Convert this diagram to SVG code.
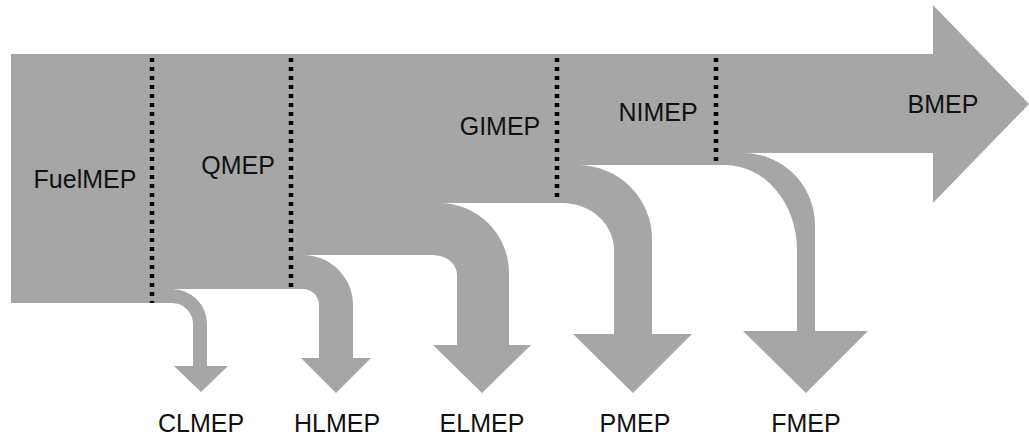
<svg xmlns="http://www.w3.org/2000/svg" width="1029" height="439" viewBox="0 0 1029 439">
  <style>
    .band { fill: #a6a6a6; stroke: none; }
    .cut { stroke: #000; stroke-width: 4.5; stroke-dasharray: 4 5; fill: none; }
    .lbl { font-family: "Liberation Sans", Arial, sans-serif; font-size: 25px; fill: #111; text-anchor: middle; }
  </style>
  <rect width="1029" height="439" fill="#fff"/>

  <!-- stages of the main energy band -->
  <g id="fuelmep">
    <rect class="band" x="11" y="54" width="142" height="249"/>
    <text class="lbl" x="85" y="188">FuelMEP</text>
  </g>
  <g id="qmep">
    <rect class="band" x="152" y="54" width="140" height="235"/>
    <text class="lbl" x="238" y="174">QMEP</text>
  </g>
  <g id="gimep">
    <rect class="band" x="291" y="54" width="267" height="149"/>
    <text class="lbl" x="500" y="135">GIMEP</text>
  </g>
  <g id="nimep">
    <rect class="band" x="557" y="54" width="160" height="111"/>
    <text class="lbl" x="658" y="121">NIMEP</text>
  </g>
  <g id="bmep">
    <path class="band" d="M716,54 H933 V5 L1029,104 L933,203 V153 H716 Z"/>
    <text class="lbl" x="943" y="113">BMEP</text>
  </g>

  <!-- loss branches leaving the band -->
  <g id="connectors">
    <path id="clmep-flow" class="band" d="M152,289 H172 A35,35 0 0 1 207,324 V366 H228 L201,392 L174,366 H193 V324 A21,21 0 0 0 172,303 H152 Z"/>
    <path id="hlmep-flow" class="band" d="M291,255 H303 A50,50 0 0 1 353,305 V358 H371 L336,393 L301,358 H319 V305 A16,16 0 0 0 303,289 H291 Z"/>
    <path id="elmep-flow" class="band" d="M291,203 H439 A70,70 0 0 1 509,273 V345 H531 L482,393 L433,345 H457 V275 A24,20 0 0 0 433,255 H291 Z"/>
    <path id="pmep-flow" class="band" d="M557,165 H578 A74,74 0 0 1 652,239 V334 H692 L633,393 L573,334 H614 V250 A52,47 0 0 0 562,203 H557 Z"/>
    <path id="fmep-flow" class="band" d="M716,153 H743 A72,72 0 0 1 815,225 V331 H868 L806,393 L743,331 H797 V250 A72,85 0 0 0 725,165 H716 Z"/>
  </g>

  <!-- dotted stage boundaries -->
  <g id="boundaries">
    <line class="cut" x1="152" y1="58" x2="152" y2="303"/>
    <line class="cut" x1="291" y1="58" x2="291" y2="288"/>
    <line class="cut" x1="557" y1="58" x2="557" y2="199"/>
    <line class="cut" x1="716" y1="58" x2="716" y2="164"/>
  </g>

  <!-- branch labels -->
  <g id="clmep"><text class="lbl" x="201" y="432">CLMEP</text></g>
  <g id="hlmep"><text class="lbl" x="337" y="432">HLMEP</text></g>
  <g id="elmep"><text class="lbl" x="482" y="432">ELMEP</text></g>
  <g id="pmep"><text class="lbl" x="635" y="432">PMEP</text></g>
  <g id="fmep"><text class="lbl" x="806" y="432">FMEP</text></g>
</svg>
